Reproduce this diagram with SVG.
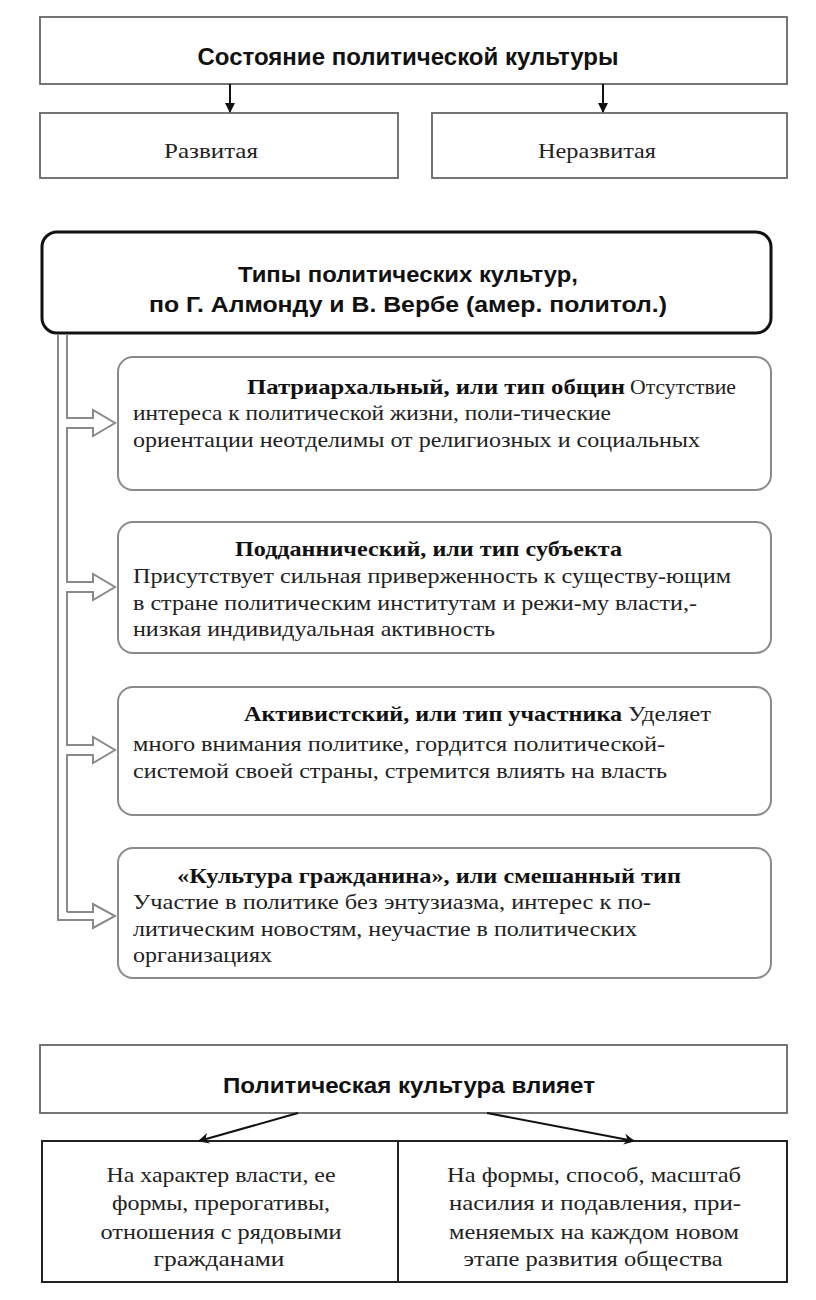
<svg xmlns="http://www.w3.org/2000/svg" width="816" height="1300" viewBox="0 0 816 1300">
<defs>
<marker id="ah" viewBox="0 0 10 10" refX="9" refY="5" markerWidth="11" markerHeight="10" markerUnits="userSpaceOnUse" orient="auto"><path d="M0,0 L10,5 L0,10 z" fill="#111"/></marker>
<marker id="ah2" viewBox="0 0 10 10" refX="9" refY="5" markerWidth="14" markerHeight="11" markerUnits="userSpaceOnUse" orient="auto"><path d="M0,0 L10,5 L0,10 L3,5 z" fill="#111"/></marker>
<style>
.box{fill:#fff;stroke:#666;stroke-width:1.8}
.rbox{fill:#fff;stroke:#8a8a8a;stroke-width:2}
.main{fill:#fff;stroke:#111;stroke-width:3}
.tbl{fill:#fff;stroke:#222;stroke-width:2}
.sans{font-family:"Liberation Sans",Arial,sans-serif;font-weight:bold;fill:#111}
.serif{font-family:"Liberation Serif","Times New Roman",serif;fill:#222;font-size:22px}
.b{font-weight:bold;fill:#111}
.pipe{fill:none;stroke:#8a8a8a;stroke-width:2}
.conn{stroke:#111;stroke-width:2;fill:none}
</style>
</defs>

<g id="state">
<rect class="box" x="40" y="17" width="747" height="67"/>
<text class="sans" x="408" y="65" font-size="23" text-anchor="middle" textLength="421" lengthAdjust="spacingAndGlyphs">Состояние политической культуры</text>
</g>
<g id="developed">
<rect class="box" x="40" y="113" width="358" height="65"/>
<text class="serif" x="211" y="158" text-anchor="middle" textLength="94" lengthAdjust="spacingAndGlyphs">Развитая</text>
</g>
<g id="undeveloped">
<rect class="box" x="432" y="113" width="355" height="65"/>
<text class="serif" x="597" y="158" text-anchor="middle" textLength="118" lengthAdjust="spacingAndGlyphs">Неразвитая</text>
</g>

<g id="types">
<rect class="main" x="42" y="232" width="729" height="101" rx="15"/>
<text class="sans" x="408" y="282" font-size="22" text-anchor="middle" textLength="340" lengthAdjust="spacingAndGlyphs">Типы политических культур,</text>
<text class="sans" x="408" y="312" font-size="22" text-anchor="middle" textLength="518" lengthAdjust="spacingAndGlyphs">по Г. Алмонду и В. Вербе (амер. политол.)</text>
</g>

<g id="type1">
<rect class="rbox" x="118" y="357" width="653" height="133" rx="15"/>
<text class="serif"><tspan class="b" x="247" y="394" textLength="378" lengthAdjust="spacingAndGlyphs">Патриархальный, или тип общин</tspan><tspan x="630" y="394" textLength="106" lengthAdjust="spacingAndGlyphs">Отсутствие</tspan></text>
<text class="serif" x="133" y="420" textLength="478" lengthAdjust="spacingAndGlyphs">интереса к политической  жизни, поли-тические</text>
<text class="serif" x="133" y="447" textLength="567" lengthAdjust="spacingAndGlyphs">ориентации  неотделимы  от религиозных и социальных</text>
</g>

<g id="type2">
<rect class="rbox" x="118" y="522" width="653" height="131" rx="15"/>
<text class="serif b" x="235" y="556" textLength="387" lengthAdjust="spacingAndGlyphs">Подданнический, или тип субъекта</text>
<text class="serif" x="133" y="583" textLength="598" lengthAdjust="spacingAndGlyphs">Присутствует  сильная приверженность  к существу-ющим</text>
<text class="serif" x="133" y="610" textLength="564" lengthAdjust="spacingAndGlyphs">в стране политическим  институтам  и режи-му власти,-</text>
<text class="serif" x="133" y="636" textLength="362" lengthAdjust="spacingAndGlyphs">низкая индивидуальная  активность</text>
</g>

<g id="type3">
<rect class="rbox" x="118" y="687" width="653" height="128" rx="15"/>
<text class="serif"><tspan class="b" x="244" y="721" textLength="378" lengthAdjust="spacingAndGlyphs">Активистский, или тип участника</tspan><tspan x="628" y="721" textLength="83" lengthAdjust="spacingAndGlyphs">Уделяет</tspan></text>
<text class="serif" x="133" y="751" textLength="532" lengthAdjust="spacingAndGlyphs">много внимания  политике,  гордится  политической-</text>
<text class="serif" x="133" y="778" textLength="534" lengthAdjust="spacingAndGlyphs">системой своей страны,  стремится  влиять на власть</text>
</g>

<g id="type4">
<rect class="rbox" x="118" y="848" width="653" height="130" rx="15"/>
<text class="serif b" x="177" y="883" textLength="504" lengthAdjust="spacingAndGlyphs">«Культура гражданина», или смешанный  тип</text>
<text class="serif" x="133" y="909" textLength="518" lengthAdjust="spacingAndGlyphs">Участие в политике  без энтузиазма,  интерес  к по-</text>
<text class="serif" x="133" y="936" textLength="504" lengthAdjust="spacingAndGlyphs">литическим  новостям, неучастие  в политических</text>
<text class="serif" x="133" y="962" textLength="139" lengthAdjust="spacingAndGlyphs">организациях</text>
</g>

<g id="influence">
<rect class="box" x="40" y="1045" width="747" height="68"/>
<text class="sans" x="409" y="1093" font-size="22" text-anchor="middle" textLength="372" lengthAdjust="spacingAndGlyphs">Политическая культура влияет</text>
</g>

<g id="effects">
<rect class="tbl" x="42" y="1141" width="745" height="141"/>
<line x1="398" y1="1141" x2="398" y2="1282" stroke="#222" stroke-width="2"/>
</g>
<g id="effect-left">
<text class="serif" x="221" y="1182" text-anchor="middle" textLength="229" lengthAdjust="spacingAndGlyphs">На характер власти, ее</text>
<text class="serif" x="221" y="1210" text-anchor="middle" textLength="218" lengthAdjust="spacingAndGlyphs">формы, прерогативы,</text>
<text class="serif" x="221" y="1239" text-anchor="middle" textLength="241" lengthAdjust="spacingAndGlyphs">отношения  с рядовыми</text>
<text class="serif" x="219" y="1266" text-anchor="middle" textLength="131" lengthAdjust="spacingAndGlyphs">гражданами</text>
</g>
<g id="effect-right">
<text class="serif" x="594" y="1182" text-anchor="middle" textLength="294" lengthAdjust="spacingAndGlyphs">На формы, способ, масштаб</text>
<text class="serif" x="595" y="1210" text-anchor="middle" textLength="292" lengthAdjust="spacingAndGlyphs">насилия и подавления, при-</text>
<text class="serif" x="594" y="1239" text-anchor="middle" textLength="290" lengthAdjust="spacingAndGlyphs">меняемых на каждом новом</text>
<text class="serif" x="593" y="1266" text-anchor="middle" textLength="259" lengthAdjust="spacingAndGlyphs">этапе развития  общества</text>
</g>

<g id="connectors">
<line class="conn" x1="230" y1="84" x2="230" y2="112" marker-end="url(#ah)"/>
<line class="conn" x1="603" y1="84" x2="603" y2="112" marker-end="url(#ah)"/>
<line class="conn" x1="298" y1="1113" x2="199" y2="1141" marker-end="url(#ah2)"/>
<line class="conn" x1="487" y1="1113" x2="634" y2="1141" marker-end="url(#ah2)"/>
<path class="pipe" d="M58,335 V920 H93 V928 L115,916 L93,904 V912 H67"/>
<path class="pipe" d="M67,335 V418 H93 V410 L115,423 L93,436 V428 H67 V582 H93 V574 L115,587 L93,600 V592 H67 V745 H93 V737 L115,750 L93,763 V755 H67 V912"/>
</g>
</svg>
